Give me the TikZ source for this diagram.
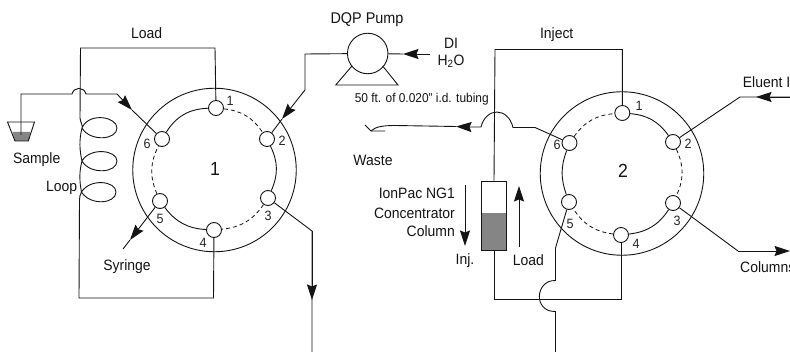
\documentclass[tikz,border=0pt]{standalone}
\usepackage{fontspec}
\setmainfont[FakeStretch=0.93]{Liberation Sans}
\usetikzlibrary{arrows.meta,calc}
\tikzset{
  wire/.style={line width=0.9pt,black!92},
  arr/.style={wire,-{Stealth[length=15.5pt,width=10pt,inset=2pt]}},
  portc/.style={circle,draw,line width=0.9pt,black!92,fill=white,minimum size=15pt,inner sep=0pt},
  ringc/.style={circle,draw,line width=0.9pt,black!92,minimum size=163.5pt,inner sep=0pt},
  portnum/.style={font=\fontsize{13.5}{13.5}\selectfont,inner sep=0pt,text=black!85},
  lab/.style={font=\fontsize{15}{17}\selectfont,inner sep=0pt,text=black!92},
  pumplab/.style={font=\fontsize{15.5}{17}\selectfont,inner sep=0pt,text=black!92},
  smalllab/.style={font=\fontsize{12.8}{14}\selectfont,inner sep=0pt,text=black!92},
  biglab/.style={font=\fontsize{19}{19}\selectfont,inner sep=0pt,text=black!92},
  dashwire/.style={wire,line width=0.8pt,dash pattern=on 4pt off 3pt}
}
\begin{document}
\begin{tikzpicture}[x=1pt,y=-1pt]
\useasboundingbox (0,0) rectangle (790,352);
\fill[white] (0,0) rectangle (790,352);

% Valve 1
\node[ringc] (v1) at (214.5,170) {};
\node[biglab] (n1) at (215,169) {1};
\node[portc] (p11) at (216,108) {};
\node[portc] (p12) at (267,139) {};
\node[portc] (p13) at (268,198) {};
\node[portc] (p14) at (214,230) {};
\node[portc] (p15) at (160,201) {};
\node[portc] (p16) at (162,139) {};
\draw[wire] (p11) to[bend right=28] (p16);
\draw[wire] (p12) to[bend left=25] (p13);
\draw[wire] (p14) to[bend left=25] (p15);
\draw[dashwire] (p11) to[bend left=25] (p12);
\draw[dashwire] (p13) to[bend left=25] (p14);
\draw[dashwire] (p15) to[bend left=25] (p16);
\node[portnum] (l11) at (230,101) {1};
\node[portnum] (l12) at (282,141) {2};
\node[portnum] (l13) at (268,216) {3};
\node[portnum] (l14) at (203,243) {4};
\node[portnum] (l15) at (160,219) {5};
\node[portnum] (l16) at (147,144) {6};

% Valve 2
\node[ringc] (v2) at (622,173.5) {};
\node[biglab] (n2) at (623,171) {2};
\node[portc] (p21) at (622.3,113) {};
\node[portc] (p22) at (673,142) {};
\node[portc] (p23) at (673,203) {};
\node[portc] (p24) at (621,235) {};
\node[portc] (p25) at (569,202) {};
\node[portc] (p26) at (569.5,143) {};
\draw[wire] (p21) to[bend left=25] (p22);
\draw[wire] (p23) to[bend left=25] (p24);
\draw[wire] (p25) to[bend left=20] (p26);
\draw[dashwire] (p22) to[bend left=25] (p23);
\draw[dashwire] (p24) to[bend left=25] (p25);
\draw[dashwire] (p26) to[bend left=25] (p21);
\node[portnum] (l21) at (639,106) {1};
\node[portnum] (l22) at (688,144) {2};
\node[portnum] (l23) at (677,221) {3};
\node[portnum] (l24) at (636,244) {4};
\node[portnum] (l25) at (570,224) {5};
\node[portnum] (l26) at (557,145) {6};

% Sample beaker
\coordinate (bt) at (21,94);
\coordinate (bb) at (21,135);
\coordinate (h1a) at (72,94);
\coordinate (h1b) at (86,94);
\coordinate (sbend) at (117,94);
\coordinate (stip) at (132,110);
\fill[black!48] (12.5,132) -- (30.5,132) -- (28.3,141) -- (15,141) -- cycle;
\draw[wire] (7.5,122) -- (34.5,122) -- (28.3,141) -- (15,141) -- cycle;
\draw[wire] (bb) -- (bt) -- (h1a) .. controls (74,86.5) and (84,86.5) .. (h1b) -- (sbend);
\draw[arr] (sbend) -- (stip);
\draw[wire] (stip) -- (p16);

% Load loop
\coordinate (la) at (215,48);
\coordinate (lb) at (80.5,48);
\coordinate (lc) at (80,118);
\coordinate (ld) at (79,298);
\coordinate (le) at (213.5,298);
\coordinate (lf) at (79.5,200);
\draw[wire] (p11) -- (la) -- (lb) -- (lc)
  .. controls (80.5,122) and (82,124) .. (82.5,127)
  .. controls (90,112) and (117,117) .. (117,128)
  .. controls (117,140) and (90,142) .. (82,128)
  .. controls (79,140) and (79.5,150) .. (82,161)
  .. controls (90,147) and (117,150) .. (117,161)
  .. controls (117,173) and (90,175) .. (82,161)
  .. controls (79,172) and (79.5,182) .. (81.5,192)
  .. controls (90,178) and (116,181) .. (116,192)
  .. controls (116,204) and (90,206) .. (81.5,192)
  .. controls (80,195) and (79.5,197) .. (lf)
  -- (ld) -- (le) -- (p14);

% Syringe
\coordinate (sytip) at (130,240);
\coordinate (syend) at (123,249);
\draw[arr] (p15) -- (sytip);
\draw[wire] (sytip) -- (syend);

% Out of port 3
\coordinate (o1) at (312,231);
\coordinate (o2) at (312,300);
\coordinate (o3) at (312,352);
\draw[wire] (p13) -- (o1) -- (o3);
\draw[arr] (o1) -- (o2);

% Pump
\node[circle,draw,line width=0.9pt,black!92,minimum size=40.5pt,inner sep=0pt] (pump) at (367.7,53.5) {};
\coordinate (ptl) at (352,66);
\coordinate (ptr) at (382.7,66);
\coordinate (pbl) at (335.7,85);
\coordinate (pbr) at (398,85);
\draw[wire] (ptl) -- (pbl) -- (pbr) -- (ptr);
\coordinate (pa) at (305,54);
\coordinate (pb) at (305,90);
\coordinate (ptip) at (282,119);
\draw[wire] (pump) -- (pa) -- (pb);
\draw[arr] (pb) -- (ptip);
\draw[wire] (ptip) -- (p12);
\coordinate (di) at (430,54);
\coordinate (ditip) at (403,54);
\draw[arr] (di) -- (ditip);
\draw[wire] (ditip) -- (pump);

% Waste
\coordinate (w1) at (535,127.5);
\coordinate (w2) at (513,127.5);
\coordinate (w3) at (481,127);
\coordinate (w4) at (470,127);
\coordinate (w5) at (456,126.5);
\coordinate (w6) at (371,131);
\coordinate (w7) at (365,125);
\coordinate (w8) at (385,131);
\draw[wire] (p26) -- (w1) -- (w2) .. controls (508,107) and (486,107) .. (w3) -- (w4);
\draw[arr] (w4) -- (w5);
\draw[wire] (w5) -- (395,125.5) .. controls (382,125.5) and (375,127) .. (w6);
\draw[wire] (w7) -- (w6) -- (w8);

% Column
\fill[black!48] (481.4,213) rectangle (506.3,249.6);
\node[draw,line width=0.9pt,black!92,minimum width=25.7pt,minimum height=69pt,inner sep=0pt] (col) at (494,215.5) {};
\coordinate (c1) at (495,49.5);
\coordinate (c2) at (622.3,49.5);
\coordinate (c3) at (494,299);
\coordinate (c4) at (621,299);
\draw[wire] (col.north) -- (c1) -- (c2) -- (p21);
\draw[wire] (col.south) -- (c3) -- (c4) -- (p24);

% Port 5 (valve 2) hop
\coordinate (h2a) at (555.5,248);
\coordinate (h2b) at (555.5,280.5);
\coordinate (h2c) at (555.5,311.5);
\coordinate (h2d) at (555.5,352);
\draw[wire] (p25) -- (h2a) -- (h2b) .. controls (535,280) and (533,312) .. (h2c) -- (h2d);

% Inj and Load arrows
\coordinate (ia) at (465,185);
\coordinate (ib) at (465,246);
\coordinate (ja) at (519,247);
\coordinate (jb) at (519,186);
\draw[arr] (ia) -- (ib);
\draw[arr] (ja) -- (jb);

% Eluent and Columns
\coordinate (e1) at (740,97);
\coordinate (e2) at (790,97);
\coordinate (etip) at (756,97);
\draw[wire] (p22) -- (e1) -- (e2);
\draw[arr] (e2) -- (etip);
\coordinate (k1) at (738,251);
\coordinate (k2) at (790,251);
\draw[wire] (p23) -- (k1);
\draw[arr] (k1) -- (k2);

% Labels
\node[lab] (tload) at (146.7,33.5) {Load};
\node[lab,anchor=center] (tsample) at (36.7,159.5) {Sample};
\node[lab] (tloop) at (61.7,188) {Loop};
\node[lab] (tsyr) at (127,266.5) {Syringe};
\node[pumplab] (tdqp) at (367,20) {DQP Pump};
\node[lab] (tdi) at (451,43) {DI};
\node[lab] (th2o) at (451,61.5) {H\textsubscript{2}O};
\node[smalllab] (ttub) at (421.7,99) {50 ft. of 0.020" i.d. tubing};
\node[lab] (twaste) at (373,160.5) {Waste};
\node[lab,anchor=east] (tion) at (455,193.5) {IonPac NG1};
\node[lab,anchor=east] (tcon) at (455,213) {Concentrator};
\node[lab,anchor=east] (tcolm) at (455,231.5) {Column};
\node[lab] (tinj) at (465,260.5) {Inj.};
\node[lab,anchor=west] (tl2) at (512.7,260.5) {Load};
\node[lab] (tinject) at (556.7,34.5) {Inject};
\node[lab,anchor=west] (tel) at (742.7,82) {Eluent In};
\node[lab,anchor=west] (tcols) at (740,267.5) {Columns};
\end{tikzpicture}
\end{document}
